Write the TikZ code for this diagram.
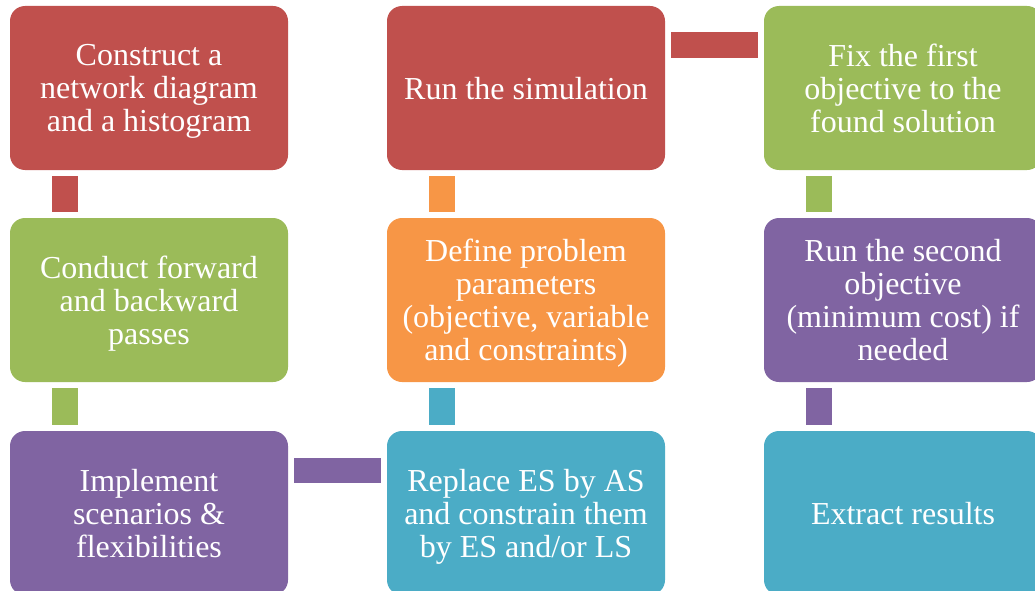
\documentclass[tikz,border=0pt]{standalone}
\usepackage{fontspec}
\setmainfont{Liberation Serif}
\usetikzlibrary{calc}
\definecolor{boxred}{HTML}{C0504D}
\definecolor{boxgreen}{HTML}{9BBB59}
\definecolor{boxpurple}{HTML}{8064A2}
\definecolor{boxorange}{HTML}{F79646}
\definecolor{boxteal}{HTML}{4BACC6}
\tikzset{
  stepbox/.style={fill=#1, rounded corners=15pt, minimum width=278pt, minimum height=164pt,
    inner sep=0pt, text=white, align=center, text depth=0pt, font=\fontsize{32}{33}\selectfont},
  link/.style={draw=#1, line width=26pt}
}
\begin{document}
\begin{tikzpicture}[x=1pt,y=1pt]
                \useasboundingbox (0,0) rectangle (1035,-591);
                \clip (0,0) rectangle (1035,-591);
                \node [stepbox=boxred] (construct) at (149,-88) {Construct a\\network diagram\\and a histogram};
                \node [stepbox=boxgreen] (passes) at (149,-300) {Conduct forward\\and backward\\passes};
                \node [stepbox=boxpurple] (scenarios) at (149,-513) {Implement\\scenarios \&\\flexibilities};
                \node [stepbox=boxred] (simul) at (526,-88) {Run the simulation};
                \node [stepbox=boxorange] (define) at (526,-300) {Define problem\\parameters\\(objective, variable\\and constraints)};
                \node [stepbox=boxteal] (replace) at (526,-513) {Replace ES by AS\\and constrain them\\by ES and/or LS};
                \node [stepbox=boxgreen] (fix) at (903,-88) {Fix the first\\objective to the\\found solution};
                \node [stepbox=boxpurple] (second) at (903,-300) {Run the second\\objective\\(minimum cost) if\\needed};
                \node [stepbox=boxteal] (extract) at (903,-513) {Extract results};
                \draw [link=boxred] ($(construct.south west)+(55,-6)$) -- ($(passes.north west)+(55,6)$);
                \draw [link=boxgreen] ($(passes.south west)+(55,-6)$) -- ($(scenarios.north west)+(55,6)$);
                \draw [link=boxpurple, line width=25pt] ($(scenarios.north east)+(6,-39.5)$) -- ($(replace.north west)+(-6,-39.5)$);
                \draw [link=boxteal] ($(replace.north west)+(55,6)$) -- ($(define.south west)+(55,-6)$);
                \draw [link=boxorange] ($(define.north west)+(55,6)$) -- ($(simul.south west)+(55,-6)$);
                \draw [link=boxred] ($(simul.north east)+(6,-39)$) -- ($(fix.north west)+(-6,-39)$);
                \draw [link=boxgreen] ($(fix.south west)+(55,-6)$) -- ($(second.north west)+(55,6)$);
                \draw [link=boxpurple] ($(second.south west)+(55,-6)$) -- ($(extract.north west)+(55,6)$);
            \end{tikzpicture}
\end{document}
